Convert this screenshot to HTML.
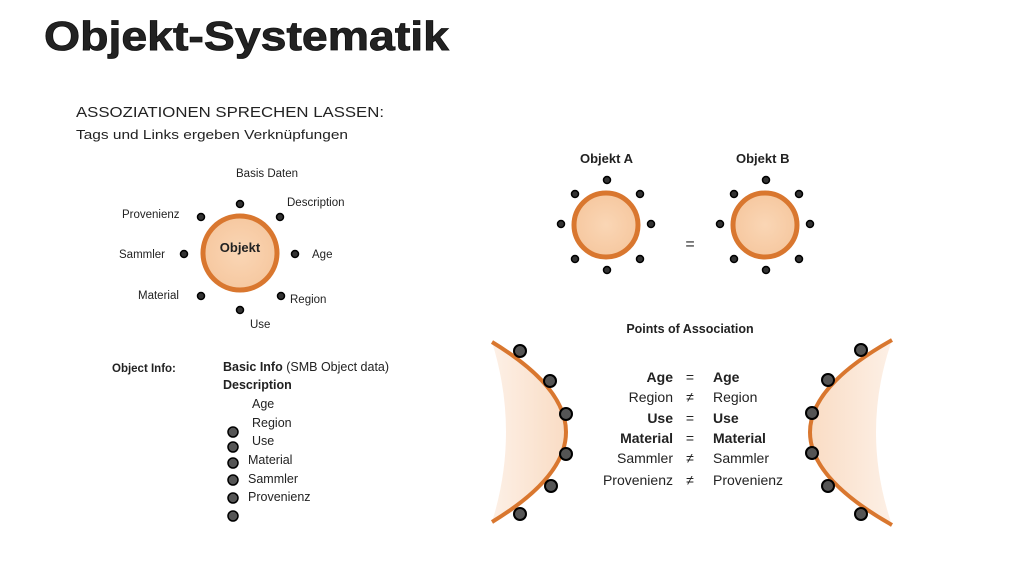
<!DOCTYPE html>
<html><head><meta charset="utf-8"><style>
body{margin:0;width:1024px;height:576px;background:#fff;overflow:hidden}
svg{display:block}
text{font-family:"Liberation Sans",sans-serif;fill:#222}
</style></head><body>
<svg width="1024" height="576" viewBox="0 0 1024 576">
<defs>
<radialGradient id="g" cx="50%" cy="50%" r="50%"><stop offset="0" stop-color="#fad6b5"/><stop offset="1" stop-color="#f6c8a0"/></radialGradient>
<linearGradient id="gl" x1="0" x2="1"><stop offset="0" stop-color="#fdf0e6"/><stop offset="1" stop-color="#f9dcc4"/></linearGradient>
<linearGradient id="gr" x1="1" x2="0"><stop offset="0" stop-color="#fdf0e6"/><stop offset="1" stop-color="#f9dcc4"/></linearGradient>
</defs>
<text x="44" y="50" font-size="41" font-weight="bold" fill="#111" stroke="#111" stroke-width="0.8" textLength="405" lengthAdjust="spacingAndGlyphs">Objekt-Systematik</text>
<text x="76" y="117" font-size="15" textLength="308" lengthAdjust="spacingAndGlyphs">ASSOZIATIONEN SPRECHEN LASSEN:</text>
<text x="76" y="139" font-size="13" textLength="272" lengthAdjust="spacingAndGlyphs">Tags und Links ergeben Verknüpfungen</text>

<g font-size="11.5">
<text x="236" y="177">Basis Daten</text>
<text x="287" y="206">Description</text>
<text x="122" y="218">Provenienz</text>
<text x="119" y="258">Sammler</text>
<text x="312" y="258">Age</text>
<text x="138" y="299">Material</text>
<text x="290" y="303">Region</text>
<text x="250" y="328">Use</text>
</g>
<circle cx="240" cy="253" r="37" fill="url(#g)" stroke="#d9772f" stroke-width="5"/>
<text x="240" y="252" font-size="13" font-weight="bold" text-anchor="middle">Objekt</text>
<g fill="#333" stroke="#000" stroke-width="1.5">
<circle cx="240" cy="204" r="3.5"/><circle cx="201" cy="217" r="3.5"/><circle cx="280" cy="217" r="3.5"/><circle cx="184" cy="254" r="3.5"/><circle cx="295" cy="254" r="3.5"/><circle cx="201" cy="296" r="3.5"/><circle cx="281" cy="296" r="3.5"/><circle cx="240" cy="310" r="3.5"/>
</g>

<text x="112" y="372" font-size="11.5" font-weight="bold">Object Info:</text>
<g font-size="12.5">
<text x="223" y="371"><tspan font-weight="bold">Basic Info</tspan> (SMB Object data)</text>
<text x="223" y="389" font-weight="bold">Description</text>
<text x="252" y="408">Age</text>
<text x="252" y="427">Region</text>
<text x="252" y="445">Use</text>
<text x="248" y="464">Material</text>
<text x="248" y="483">Sammler</text>
<text x="248" y="501">Provenienz</text>
</g>
<g fill="#555" stroke="#000" stroke-width="1.5">
<circle cx="233" cy="432" r="5"/><circle cx="233" cy="447" r="5"/><circle cx="233" cy="463" r="5"/><circle cx="233" cy="480" r="5"/><circle cx="233" cy="498" r="5"/><circle cx="233" cy="516" r="5"/>
</g>

<text x="580" y="163" font-size="13" font-weight="bold">Objekt A</text>
<text x="736" y="163" font-size="13" font-weight="bold">Objekt B</text>
<circle cx="606" cy="225" r="32" fill="url(#g)" stroke="#d9772f" stroke-width="5"/>
<circle cx="765" cy="225" r="32" fill="url(#g)" stroke="#d9772f" stroke-width="5"/>
<text x="690" y="249" font-size="16" text-anchor="middle">=</text>
<g fill="#333" stroke="#000" stroke-width="1.5">
<circle cx="607" cy="180" r="3.5"/><circle cx="575" cy="194" r="3.5"/><circle cx="640" cy="194" r="3.5"/><circle cx="561" cy="224" r="3.5"/><circle cx="651" cy="224" r="3.5"/><circle cx="575" cy="259" r="3.5"/><circle cx="640" cy="259" r="3.5"/><circle cx="607" cy="270" r="3.5"/>
<circle cx="766" cy="180" r="3.5"/><circle cx="734" cy="194" r="3.5"/><circle cx="799" cy="194" r="3.5"/><circle cx="720" cy="224" r="3.5"/><circle cx="810" cy="224" r="3.5"/><circle cx="734" cy="259" r="3.5"/><circle cx="799" cy="259" r="3.5"/><circle cx="766" cy="270" r="3.5"/>
</g>

<text x="690" y="333" font-size="12.5" font-weight="bold" text-anchor="middle">Points of Association</text>
<g font-size="14">
<g text-anchor="end">
<text x="673" y="382" font-weight="bold">Age</text>
<text x="673" y="402" fill="#444">Region</text>
<text x="673" y="423" font-weight="bold">Use</text>
<text x="673" y="443" font-weight="bold">Material</text>
<text x="673" y="463" fill="#444">Sammler</text>
<text x="673" y="485" fill="#444">Provenienz</text>
</g>
<g text-anchor="middle" fill="#555">
<text x="690" y="382">=</text><text x="690" y="402">≠</text><text x="690" y="423">=</text><text x="690" y="443">=</text><text x="690" y="463">≠</text><text x="690" y="485">≠</text>
</g>
<text x="713" y="382" font-weight="bold">Age</text>
<text x="713" y="402" fill="#444">Region</text>
<text x="713" y="423" font-weight="bold">Use</text>
<text x="713" y="443" font-weight="bold">Material</text>
<text x="713" y="463" fill="#444">Sammler</text>
<text x="713" y="485" fill="#444">Provenienz</text>
</g>

<path d="M492,342 Q640,432 492,522 Q520,432 492,342Z" fill="url(#gl)"/>
<path d="M492,342 Q640,432 492,522" fill="none" stroke="#d9772f" stroke-width="4"/>
<path d="M892,340 Q728,432 892,525 Q860,432 892,340Z" fill="url(#gr)"/>
<path d="M892,340 Q728,432 892,525" fill="none" stroke="#d9772f" stroke-width="4"/>
<g fill="#555" stroke="#000" stroke-width="2">
<circle cx="520" cy="351" r="6"/><circle cx="550" cy="381" r="6"/><circle cx="566" cy="414" r="6"/><circle cx="566" cy="454" r="6"/><circle cx="551" cy="486" r="6"/><circle cx="520" cy="514" r="6"/>
<circle cx="861" cy="350" r="6"/><circle cx="828" cy="380" r="6"/><circle cx="812" cy="413" r="6"/><circle cx="812" cy="453" r="6"/><circle cx="828" cy="486" r="6"/><circle cx="861" cy="514" r="6"/>
</g>
</svg>
</body></html>
